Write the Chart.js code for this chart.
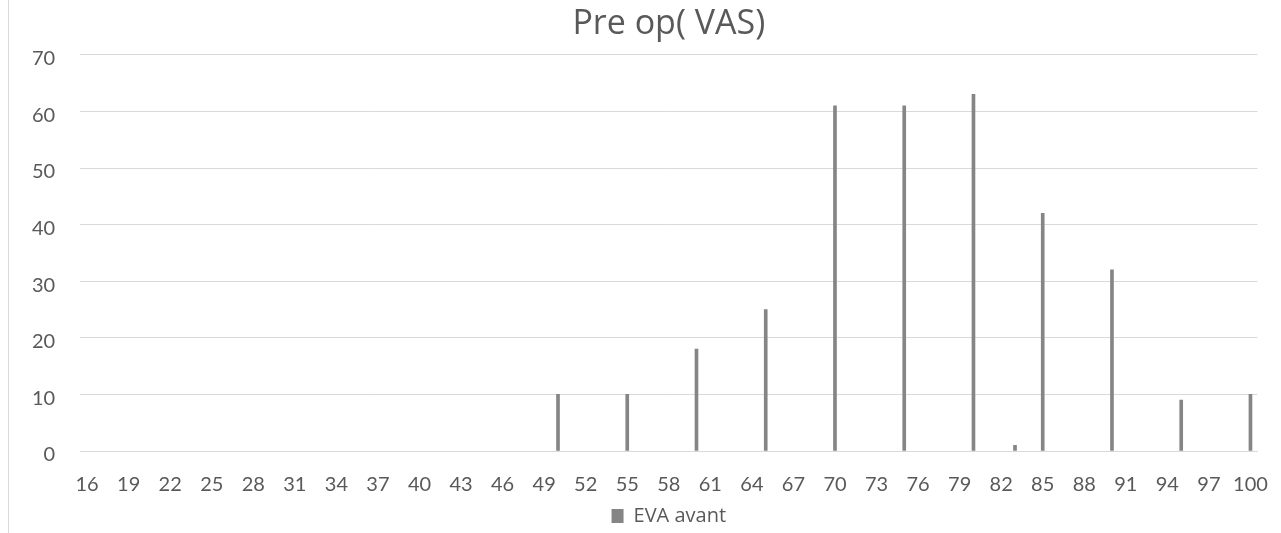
<!DOCTYPE html>
<html>
<head>
<meta charset="utf-8">
<script src="https://cdn.jsdelivr.net/npm/chart.js@4.4.1/dist/chart.umd.min.js"></script>
<style>
    body { margin: 0; background: #fff; }
    #wrap { position: relative; width: 1281px; height: 533px; }
    #frame { position: absolute; left: 8px; top: 0; width: 1px; height: 533px; background: #d9d9d9; }
</style>
</head>
<body>
<div id="wrap">
    <div id="frame"></div>
    <canvas id="vasChart" width="1281" height="533"></canvas>
</div>
<script>
// VAS scores 16..100 on the x axis
const categories = [16, 17, 18, 19, 20, 21, 22, 23, 24, 25, 26, 27, 28, 29, 30, 31, 32, 33, 34, 35,
    36, 37, 38, 39, 40, 41, 42, 43, 44, 45, 46, 47, 48, 49, 50, 51, 52, 53, 54, 55,
    56, 57, 58, 59, 60, 61, 62, 63, 64, 65, 66, 67, 68, 69, 70, 71, 72, 73, 74, 75,
    76, 77, 78, 79, 80, 81, 82, 83, 84, 85, 86, 87, 88, 89, 90, 91, 92, 93, 94, 95,
    96, 97, 98, 99, 100];

// scores that have patients, and how many
const scores = [50, 55, 60, 65, 70, 75, 80, 83, 85, 90, 95, 100];
const counts = [10, 10, 18, 25, 61, 61, 63, 1, 42, 32, 9, 10];

const yTicks = [0, 10, 20, 30, 40, 50, 60, 70];

// empty categories get no bar at all
const values = categories.map(c => {
    const i = scores.indexOf(c);
    return i >= 0 ? counts[i] : null;
});

const ctx = document.getElementById('vasChart').getContext('2d');

const vasChart = new Chart(ctx, {
    type: 'bar',
    data: {
        labels: categories.map(String),
        datasets: [{
            label: 'EVA avant',
            data: values,
            backgroundColor: '#858585',
            barThickness: 3,
        }]
    },
    options: {
        responsive: false,
        animation: false,
        layout: {
            padding: { left: 7, right: 23, top: 0, bottom: -3 }
        },
        plugins: {
            title: {
                display: true,
                fullSize: false,
                text: 'Pre op( VAS)',
                color: '#595959',
                font: { family: 'Open Sans', size: 34, weight: 'normal' },
                padding: { top: 4, bottom: 10 }
            },
            legend: {
                position: 'bottom',
                fullSize: false,
                labels: {
                    color: '#595959',
                    font: { family: 'Open Sans', size: 20 },
                    boxWidth: 12,
                    boxHeight: 14,
                    padding: 0
                }
            },
            tooltip: { enabled: false }
        },
        scales: {
            x: {
                // invisible tick marks push the labels down
                grid: {
                    display: true,
                    drawOnChartArea: false,
                    drawTicks: true,
                    tickLength: 13,
                    tickColor: 'rgba(0,0,0,0)'
                },
                border: { display: true, color: '#d9d9d9' },
                ticks: {
                    autoSkip: false,
                    maxRotation: 0,
                    color: '#595959',
                    font: { family: 'Lato', size: 20, lineHeight: 0.8 },
                    padding: 13,
                    callback: function (val, index) {
                        return index % 3 === 0 ? categories[index] : '';
                    }
                }
            },
            y: {
                min: yTicks[0],
                max: yTicks[yTicks.length - 1],
                grid: { color: '#d9d9d9', drawTicks: false },
                border: { display: false },
                ticks: {
                    stepSize: 10,
                    color: '#595959',
                    font: { family: 'Lato', size: 20 },
                    padding: 25,
                    labelOffset: 4
                }
            }
        }
    }
});
</script>
</body>
</html>
